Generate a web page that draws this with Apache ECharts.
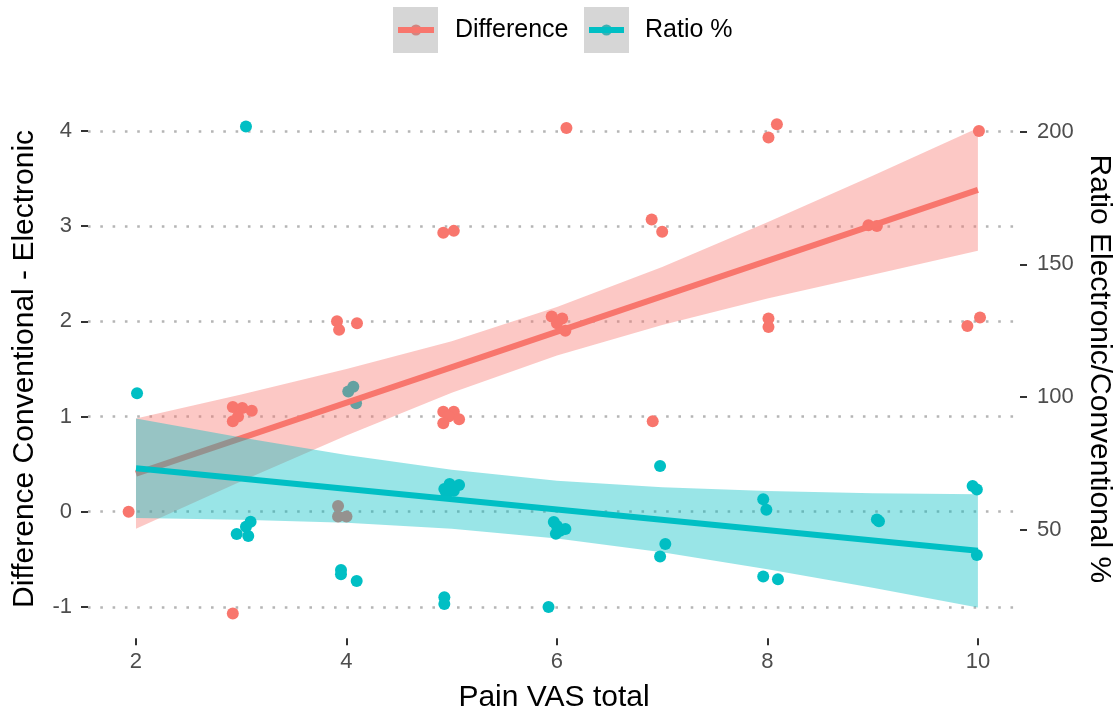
<!DOCTYPE html>
<html>
<head>
<meta charset="utf-8">
<script src="https://cdn.jsdelivr.net/npm/echarts@6.0.0/dist/echarts.min.js"></script>
<style>html,body{margin:0;padding:0;background:#fff}#c{width:1118px;height:715px}</style>
</head>
<body>
<div id="c"></div>
<script>
// ---- tick labels ----
const xTicks = [2, 4, 6, 8, 10];
const leftTicks = [-1, 0, 1, 2, 3, 4];
const rightTicks = [50, 100, 150, 200];

// ---- Difference (left axis) points ----
const diffX = [1.93, 2.92, 2.92, 3.01, 3.10, 2.97, 2.92, 3.91, 3.93, 4.10, 3.92, 3.92, 4.00, 4.92, 5.02, 4.92, 5.02, 4.97, 4.92, 5.07, 5.95, 6.05, 6.00, 6.08, 6.09, 6.91, 6.90, 7.00, 8.09, 8.01, 8.01, 8.01, 8.96, 9.04, 9.90, 10.02, 10.01];
const diffY = [0.00, -1.07, 1.10, 1.09, 1.06, 1.00, 0.95, 2.00, 1.91, 1.98, 0.06, -0.05, -0.05, 2.93, 2.95, 1.05, 1.05, 1.00, 0.93, 0.97, 2.05, 2.03, 1.98, 1.90, 4.03, 0.95, 3.07, 2.94, 4.07, 3.93, 2.03, 1.94, 3.01, 3.00, 1.95, 2.04, 4.00];

// ---- Ratio % (right axis) points ----
const ratioX = [2.01, 3.045, 2.957, 3.067, 3.045, 3.089, 3.948, 3.948, 4.097, 4.017, 4.065, 4.091, 4.93, 4.98, 5.02, 5.07, 4.95, 4.93, 4.93, 5.92, 5.97, 6.00, 6.03, 6.08, 5.99, 6.98, 7.03, 6.98, 7.96, 7.99, 7.96, 8.10, 9.06, 9.04, 9.95, 9.99, 9.99];
const ratioY = [101.4, 202, 48.3, 47.5, 51.0, 52.9, 34.7, 33.1, 30.6, 102.0, 103.8, 97.6, 65.3, 67.1, 64.6, 66.8, 63.5, 24.4, 21.9, 20.8, 52.8, 51.3, 49.5, 50.2, 48.4, 73.9, 44.5, 39.8, 61.4, 57.4, 32.3, 31.2, 53.1, 53.8, 66.4, 65.1, 40.4];

// ---- fitted lines ----
const fitX = [2, 10];
const diffFit = [0.40, 3.38];
const ratioFit = [73.1, 42.0];

// ---- confidence bands ----
const bandX = [2, 3, 4, 5, 6, 7, 8, 9, 10];
const diffLower = [-0.18, 0.32, 0.80, 1.25, 1.64, 1.96, 2.24, 2.49, 2.74];
const diffUpper = [0.98, 1.23, 1.50, 1.79, 2.15, 2.57, 3.04, 3.53, 4.03];
const ratioLower = [54.3, 53.7, 52.5, 50.3, 46.6, 41.4, 35.0, 28.0, 20.6];
const ratioUpper = [91.8, 84.7, 78.1, 72.5, 68.4, 65.9, 64.5, 63.7, 63.3];

// ---- axis ranges (secondary axis is a linear transform of the primary) ----
const L_MIN = -1.33, L_MAX = 4.33;
const R_A = 56.7, R_B = 35.9;
const R_MIN = R_A + R_B * L_MIN, R_MAX = R_A + R_B * L_MAX;

const RED = '#F8766D', TEAL = '#00BFC4';
const FONT = '"Liberation Sans", Arial, Helvetica, sans-serif';

function zip(xs, ys) { return xs.map((x, i) => [x, ys[i]]); }

function ribbon(name, xs, lo, hi, fill, yAxisIndex, z) {
  const data = xs.map((x, i) => [x, lo[i], hi[i]]);
  return {
    type: 'custom', name: name, yAxisIndex: yAxisIndex, z: z, silent: true,
    data: data, encode: { x: 0, y: [1, 2] },
    renderItem: function (params, api) {
      if (params.dataIndex !== 0) return null;
      const top = data.map(d => api.coord([d[0], d[2]]));
      const bot = data.map(d => api.coord([d[0], d[1]])).reverse();
      return { type: 'polygon', shape: { points: top.concat(bot), smooth: 0 }, style: { fill: fill } };
    }
  };
}

const tickStyle = { show: true, length: 7, lineStyle: { color: '#333333', width: 2 } };
const labelStyle = { fontSize: 22, color: '#4d4d4d', fontFamily: FONT };

const chart = echarts.init(document.getElementById('c'), null, { renderer: 'canvas' });
chart.setOption({
  backgroundColor: '#ffffff',
  animation: false,
  grid: { left: 88, right: 98, top: 99.5, bottom: 76.7, containLabel: false, outerBoundsMode: 'none' },
  xAxis: {
    type: 'value', min: 1.544, max: 10.4, position: 'bottom',
    axisLine: { show: false, onZero: false },
    axisTick: Object.assign({ customValues: xTicks }, tickStyle),
    axisLabel: Object.assign({ customValues: xTicks, margin: 13 }, labelStyle),
    splitLine: { show: false },
    name: 'Pain VAS total', nameLocation: 'middle', nameGap: 44,
    nameTextStyle: { fontSize: 30, color: '#000', fontFamily: FONT }
  },
  yAxis: [{
    type: 'value', position: 'left', min: L_MIN, max: L_MAX,
    axisLine: { show: false, onZero: false },
    axisTick: Object.assign({ customValues: leftTicks }, tickStyle),
    axisLabel: Object.assign({ customValues: leftTicks, margin: 16 }, labelStyle),
    splitLine: { show: true, lineStyle: { color: '#b5b5b5', width: 2.5, type: [2.6, 9.7] } },
    name: 'Difference Conventional - Electronic', nameLocation: 'middle', nameGap: 48,
    nameTextStyle: { fontSize: 30, color: '#000', fontFamily: FONT }
  }, {
    type: 'value', position: 'right', min: R_MIN, max: R_MAX,
    axisLine: { show: false, onZero: false },
    axisTick: Object.assign({ customValues: rightTicks }, tickStyle),
    axisLabel: Object.assign({ customValues: rightTicks, margin: 17 }, labelStyle),
    splitLine: { show: false },
    name: 'Ratio Electronic/Conventional %', nameLocation: 'middle', nameGap: 61, nameRotate: -90,
    nameTextStyle: { fontSize: 30, color: '#000', fontFamily: FONT }
  }],
  series: [
    { type: 'scatter', name: 'Difference', yAxisIndex: 0, z: 2, symbolSize: 12,
      itemStyle: { color: RED, opacity: 1 }, data: zip(diffX, diffY) },
    { type: 'scatter', name: 'Ratio %', yAxisIndex: 1, z: 2, symbolSize: 12,
      itemStyle: { color: TEAL, opacity: 1 }, data: zip(ratioX, ratioY) },
    ribbon('Difference band', bandX, diffLower, diffUpper, 'rgba(248,118,109,0.4)', 0, 3),
    { type: 'line', name: 'Difference fit', yAxisIndex: 0, z: 4, symbol: 'none',
      lineStyle: { color: RED, width: 6 }, data: zip(fitX, diffFit) },
    ribbon('Ratio band', bandX, ratioLower, ratioUpper, 'rgba(0,191,196,0.4)', 1, 5),
    { type: 'line', name: 'Ratio fit', yAxisIndex: 1, z: 6, symbol: 'none',
      lineStyle: { color: TEAL, width: 6 }, data: zip(fitX, ratioFit) }
  ],
  graphic: [
    { type: 'rect', shape: { x: 393, y: 7, width: 45, height: 46 }, style: { fill: '#d6d6d6' } },
    { type: 'circle', shape: { cx: 416, cy: 30, r: 5.5 }, style: { fill: '#d2847f' } },
    { type: 'line', shape: { x1: 398, y1: 30, x2: 434, y2: 30 }, style: { stroke: RED, lineWidth: 6 } },
    { type: 'text', x: 455, y: 30, style: { text: 'Difference', fontSize: 25, fontFamily: FONT, fill: '#000', verticalAlign: 'middle' } },
    { type: 'rect', shape: { x: 584, y: 7, width: 45, height: 46 }, style: { fill: '#d6d6d6' } },
    { type: 'circle', shape: { cx: 606.5, cy: 30, r: 5.5 }, style: { fill: '#3db0b3' } },
    { type: 'line', shape: { x1: 589, y1: 30, x2: 624, y2: 30 }, style: { stroke: TEAL, lineWidth: 6 } },
    { type: 'text', x: 645, y: 30, style: { text: 'Ratio %', fontSize: 25, fontFamily: FONT, fill: '#000', verticalAlign: 'middle' } }
  ]
});
</script>
</body>
</html>
